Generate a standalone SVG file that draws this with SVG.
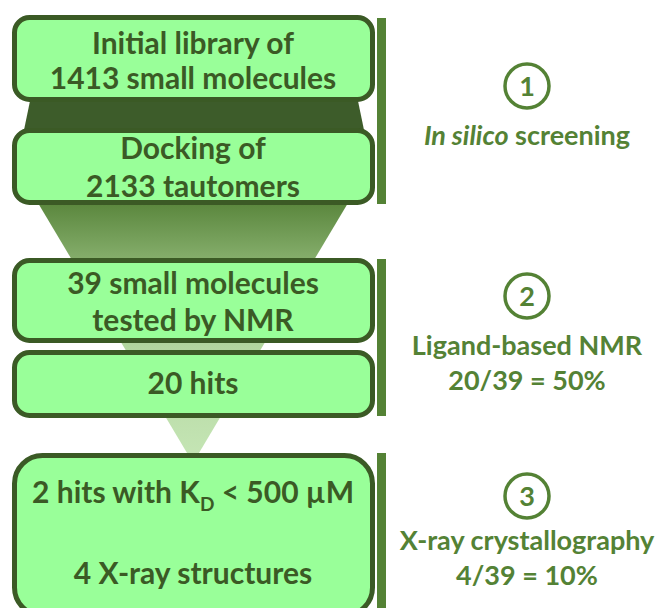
<svg xmlns="http://www.w3.org/2000/svg" width="657" height="608" viewBox="0 0 657 608">
<style>
.box{fill:#99ff99;stroke:#3b5a25;stroke-width:5}
.bt{font-family:Lato,"Liberation Sans",sans-serif;font-weight:bold;font-size:30px;fill:#3b5a25;text-anchor:middle}
.rt{font-family:Lato,"Liberation Sans",sans-serif;font-weight:bold;font-size:27px;fill:#548235;text-anchor:middle}
.num{fill:none;stroke:#548235;stroke-width:3.5}
.bar{fill:#548235}
</style>
<defs>
<linearGradient id="fg" gradientUnits="userSpaceOnUse" x1="0" y1="205" x2="0" y2="463">
<stop offset="0" stop-color="#5c883f"/>
<stop offset="0.25" stop-color="#8db574"/>
<stop offset="0.55" stop-color="#b2d69f"/>
<stop offset="1" stop-color="#c6e6b6"/>
</linearGradient>
</defs>
<g id="connectors">
<polygon points="30,101 358,101 364,130 24,130" fill="#3d5c2a"/>
<polygon points="38,203 348,203 193,463" fill="url(#fg)"/>
</g>
<g id="box1"><rect class="box" x="14.5" y="17.5" width="358" height="82" rx="15"/>
<text class="bt" x="193" y="54">Initial library of</text>
<text class="bt" x="193" y="89">1413 small molecules</text></g>
<g id="box2"><rect class="box" x="14.5" y="130.5" width="358" height="72" rx="15"/>
<text class="bt" x="193" y="159">Docking of</text>
<text class="bt" x="193" y="197">2133 tautomers</text></g>
<g id="box3"><rect class="box" x="14.5" y="260.5" width="358" height="80" rx="15"/>
<text class="bt" x="193" y="294">39 small molecules</text>
<text class="bt" x="193" y="331">tested by NMR</text></g>
<g id="box4"><rect class="box" x="14.5" y="352.5" width="358" height="63" rx="15"/>
<text class="bt" x="193" y="394">20 hits</text></g>
<g id="box5"><rect class="box" x="14.5" y="455.5" width="358" height="160" rx="28"/>
<text class="bt" x="193" y="503">2 hits with K<tspan font-size="19" dy="8">D</tspan><tspan dy="-8"> &lt; 500 µM</tspan></text>
<text class="bt" x="193" y="584">4 X-ray structures</text></g>
<g id="stage1"><rect class="bar" x="377" y="18" width="9" height="186"/>
<circle class="num" cx="527" cy="86" r="22"/>
<text class="rt" x="527" y="96">1</text>
<text class="rt" x="527" y="145"><tspan font-style="italic">In silico</tspan> screening</text></g>
<g id="stage2"><rect class="bar" x="377" y="259" width="9" height="157"/>
<circle class="num" cx="527" cy="296" r="22"/>
<text class="rt" x="527" y="306">2</text>
<text class="rt" x="527" y="355">Ligand-based NMR</text>
<text class="rt" x="527" y="390">20/39 = 50%</text></g>
<g id="stage3"><rect class="bar" x="377" y="453" width="9" height="155"/>
<circle class="num" cx="527" cy="496" r="22"/>
<text class="rt" x="527" y="506">3</text>
<text class="rt" x="527" y="550">X-ray crystallography</text>
<text class="rt" x="527" y="585">4/39 = 10%</text></g>
</svg>
